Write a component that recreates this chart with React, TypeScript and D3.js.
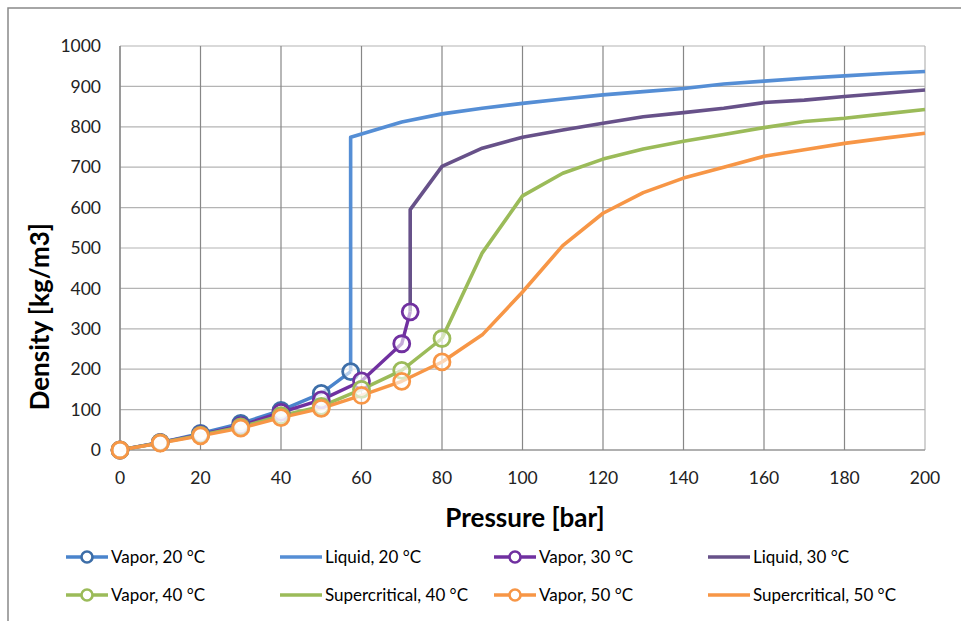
import React from "react";
import * as d3 from "d3";

type Pt = [number, number];

const vapor20: Pt[] = [[0, 0], [10, 18], [20, 41], [30, 66], [40, 98], [50, 140], [57.3, 194]];
const liquid20: Pt[] = [[57.3, 194], [57.3, 774], [70, 812], [80, 832], [90, 846], [100, 858], [110, 869], [120, 879], [130, 887], [140, 895], [150, 906], [160, 913], [170, 920], [180, 926], [190, 932], [200, 937]];
const vapor30: Pt[] = [[0, 0], [10, 19], [20, 38], [30, 60], [40, 93], [50, 124], [60, 171], [70, 263], [72.1, 342]];
const liquid30: Pt[] = [[72.1, 342], [72.1, 595], [80, 702], [90, 747], [100, 774], [110, 792], [120, 809], [130, 825], [140, 835], [150, 846], [160, 860], [170, 866], [180, 875], [190, 883], [200, 891]];
const vapor40: Pt[] = [[0, 0], [10, 18], [20, 37], [30, 57], [40, 85], [50, 108], [60, 150], [70, 197], [80, 276]];
const super40: Pt[] = [[80, 276], [90, 488], [100, 629], [110, 685], [120, 720], [130, 745], [140, 764], [150, 781], [160, 798], [170, 813], [180, 821], [190, 832], [200, 843]];
const vapor50: Pt[] = [[0, 0], [10, 17], [20, 35], [30, 54], [40, 80], [50, 103], [60, 135], [70, 170], [80, 218]];
const super50: Pt[] = [[80, 218], [90, 285], [100, 391], [110, 506], [120, 586], [130, 637], [140, 673], [150, 700], [160, 727], [170, 743], [180, 759], [190, 772], [200, 784]];

const xTicks = [0, 20, 40, 60, 80, 100, 120, 140, 160, 180, 200];
const yTicks = [0, 100, 200, 300, 400, 500, 600, 700, 800, 900, 1000];

const seriesNames = ["Vapor, 20 °C", "Liquid, 20 °C", "Vapor, 30 °C", "Liquid, 30 °C", "Vapor, 40 °C", "Supercritical, 40 °C", "Vapor, 50 °C", "Supercritical, 50 °C"];

interface Series { name: string; data: Pt[]; line: string; marker?: string; width: number; }

const series: Series[] = [
  { name: seriesNames[0], data: vapor20, line: "#4a84cc", marker: "#3d6ea8", width: 3.4 },
  { name: seriesNames[1], data: liquid20, line: "#558ed5", width: 3.6 },
  { name: seriesNames[2], data: vapor30, line: "#7030a0", marker: "#7030a0", width: 3.4 },
  { name: seriesNames[3], data: liquid30, line: "#675189", width: 3.6 },
  { name: seriesNames[4], data: vapor40, line: "#9bbb59", marker: "#9bbb59", width: 3.4 },
  { name: seriesNames[5], data: super40, line: "#9bbb59", width: 3.6 },
  { name: seriesNames[6], data: vapor50, line: "#f79646", marker: "#f79646", width: 3.4 },
  { name: seriesNames[7], data: super50, line: "#f79646", width: 3.6 },
];

const FONT = "Lato, 'Open Sans', sans-serif";

export default function App() {
  const W = 961, H = 621;
  const x = d3.scaleLinear().domain([0, 200]).range([120, 925]);
  const y = d3.scaleLinear().domain([0, 1000]).range([450, 46]);
  const line = d3.line<Pt>().x(d => x(d[0])).y(d => y(d[1]));

  const legendCols = [66, 280, 494, 708];
  const legendRows = [557, 595];

  return (
    <svg width={W} height={H} style={{ position: "absolute", left: 0, top: 0, background: "#fff" }} fontFamily={FONT}>
      <rect x={0} y={0} width={W} height={H} fill="#fff" />
      <rect x={8} y={8} width={1200} height={1200} fill="none" stroke="#898989" strokeWidth={1.5} />
      {yTicks.map(t => (
        <line key={"h" + t} x1={x(0)} x2={x(200)} y1={y(t)} y2={y(t)} stroke="#b4b4b4" strokeWidth={1.2} />
      ))}
      {xTicks.map(t => (
        <line key={"v" + t} x1={x(t)} x2={x(t)} y1={y(0)} y2={y(1000)} stroke={t === 200 ? "#b4b4b4" : "#878787"} strokeWidth={1.2} />
      ))}
      <line x1={x(0)} x2={x(200)} y1={y(0)} y2={y(0)} stroke="#878787" strokeWidth={1.2} />
      <line x1={x(0)} x2={x(0)} y1={y(0)} y2={y(1000)} stroke="#878787" strokeWidth={1.2} />
      {yTicks.map(t => (
        <text key={"yl" + t} x={101} y={y(t)} dy="0.35em" textAnchor="end" fontSize={17.5} fill="#222">{t}</text>
      ))}
      {xTicks.map(t => (
        <text key={"xl" + t} x={x(t)} y={478} dy="0.35em" textAnchor="middle" fontSize={17.5} fill="#222">{t}</text>
      ))}
      <text x={525} y={518} dy="0.35em" textAnchor="middle" fontSize={26} fontWeight="bold" fill="#000">Pressure [bar]</text>
      <text transform={`translate(40,${y(330)}) rotate(-90)`} dy="0.35em" textAnchor="middle" fontSize={26} fontWeight="bold" fill="#000">Density [kg/m3]</text>
      {series.map(s => (
        <path key={"l" + s.name} d={line(s.data) || ""} fill="none" stroke={s.line} strokeWidth={s.width} strokeLinejoin="round" />
      ))}
      {series.filter(s => s.marker).map(s => (
        <g key={"m" + s.name}>
          {s.data.map((d, i) => (
            <circle key={i} cx={x(d[0])} cy={y(d[1])} r={8} fill="#fff" fillOpacity={0.6} stroke={s.marker} strokeWidth={2.8} />
          ))}
        </g>
      ))}
      {series.map((s, i) => {
        const lx = legendCols[i % 4];
        const ly = legendRows[Math.floor(i / 4)];
        return (
          <g key={"lg" + s.name}>
            <line x1={lx} x2={lx + 42} y1={ly} y2={ly} stroke={s.line} strokeWidth={3.4} />
            {s.marker && <circle cx={lx + 21} cy={ly} r={5.5} fill="#fff" stroke={s.marker} strokeWidth={2.6} />}
            <text x={lx + 45} y={ly} dy="0.35em" fontSize={17} fill="#000">{s.name}</text>
          </g>
        );
      })}
    </svg>
  );
}
